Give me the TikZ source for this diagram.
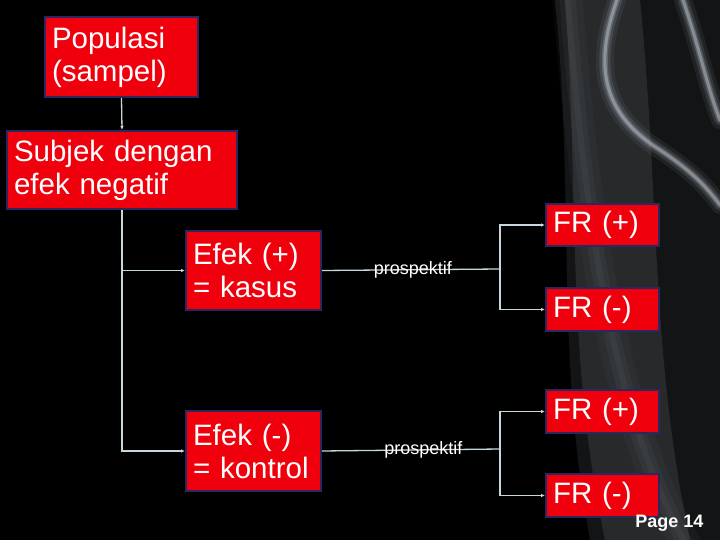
\documentclass[tikz,border=0pt]{standalone}
\usepackage{fontspec}
\setmainfont{Liberation Sans}
\usetikzlibrary{positioning,arrows.meta}

\definecolor{boxred}{RGB}{240,0,12}
\definecolor{boxline}{RGB}{45,38,95}
\definecolor{linkgray}{RGB}{200,214,222}
\definecolor{smoke}{RGB}{190,200,210}

\tikzset{
  box/.style={draw=boxline, fill=boxred, line width=2pt, text=white,
    font=\fontsize{29.5}{33}\selectfont, align=left, anchor=north west,
    inner xsep=7pt, inner ysep=0pt},
  link/.style={draw=linkgray, line width=1.3pt},
  tip/.style={-{Latex[length=4pt,width=3.5pt]}},
  lbl/.style={text=white, font=\fontsize{18}{18}\selectfont},
  glow/.style={draw=smoke, line cap=round}
}

\begin{document}
\begin{tikzpicture}[x=1pt,y=-1pt]

  % Background and smoke
  \fill[black] (0,0) rectangle (720,540);
  \useasboundingbox (0,0) rectangle (720,540);
  \fill[smoke, opacity=0.10] (555,0) .. controls (575,200) and (555,350) .. (590,540) -- (720,540) -- (720,0) -- cycle;
  \fill[smoke, opacity=0.12] (565,0) .. controls (580,200) and (565,350) .. (605,540) -- (690,540) .. controls (650,350) and (660,200) .. (640,0) -- cycle;
  \foreach \w/\o in {18/0.08, 11/0.14, 6/0.25, 3/0.45} {
    \draw[glow, line width=\w pt, opacity=\o] (617,0) .. controls (592,70) and (605,115) .. (660,150) .. controls (690,170) and (705,185) .. (720,205);
    \draw[glow, line width=\w pt, opacity=\o] (683,0) .. controls (700,50) and (708,90) .. (720,120);
  }
  \foreach \w/\o in {30/0.04, 16/0.05, 6/0.05} {
    \draw[draw=smoke, line width=\w pt, opacity=\o] (566,-20) .. controls (590,300) and (630,450) .. (695,560);
  }

  % Define nodes
  \node[box, text width=139pt, minimum height=80pt] (popul) at (44,16) {Populasi\\(sampel)};
  \node[box, text width=216pt, minimum height=78pt] (subjek) at (6,130) {Subjek dengan\\efek negatif};
  \node[box, text width=121pt, minimum height=79pt] (efekp) at (185,230) {Efek (+)\\= kasus};
  \node[box, text width=121pt, minimum height=80pt] (efekm) at (185,410) {Efek (-)\\= kontrol};
  \node[box, text width=99pt, minimum height=42pt] (frpp) at (545,203) {FR (+)};
  \node[box, text width=99pt, minimum height=43pt] (frpm) at (545,287) {FR (-)};
  \node[box, text width=99pt, minimum height=43pt] (frmp) at (545,389) {FR (+)};
  \node[box, text width=99pt, minimum height=43pt] (frmm) at (545,473) {FR (-)};
  \coordinate (splitp) at (500,269);
  \coordinate (splitm) at (500,449);
  \node[anchor=east, text=white, font=\fontsize{18}{18}\selectfont\bfseries] (page) at (707,523) {Page 14};

  % Connect the nodes
  \draw[link, tip] (popul.south) -- (subjek.north);
  \draw[link, tip] (subjek.south) |- (efekm.west);
  \draw[link, tip] (subjek.south |- efekp.west) -- (efekp.west);
  \draw[link] (efekp.east) -- node[lbl, pos=0.51] {prospektif} (splitp);
  \draw[link] (efekm.east) -- node[lbl, pos=0.57] {prospektif} (splitm);
  \draw[link, tip] (splitp) |- (frpp.west);
  \draw[link, tip] (splitp) |- (frpm.west);
  \draw[link, tip] (splitm) |- (frmp.west);
  \draw[link, tip] (splitm) |- (frmm.west);

\end{tikzpicture}
\end{document}
